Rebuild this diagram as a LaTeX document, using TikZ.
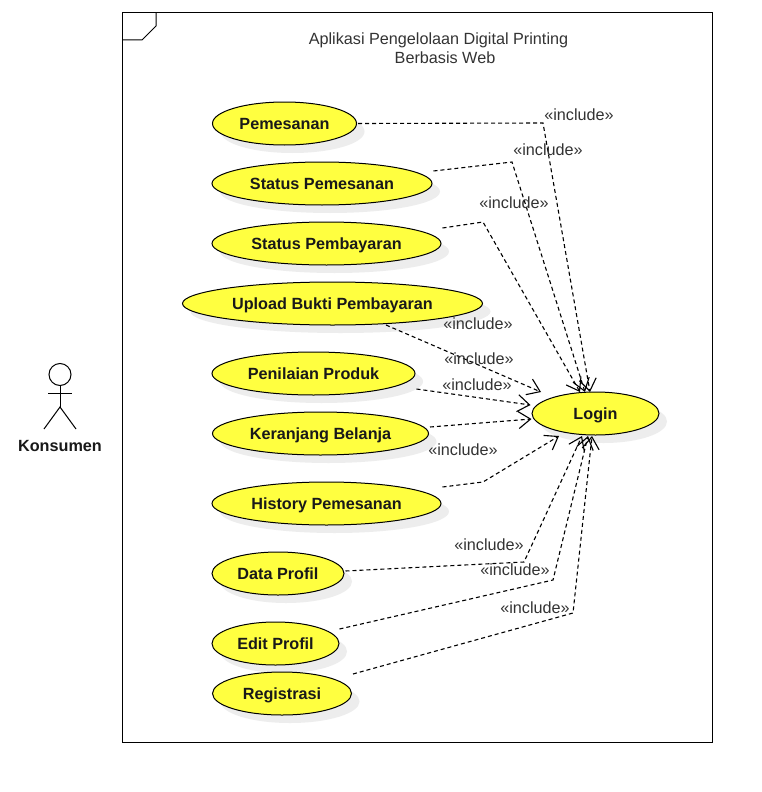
\documentclass[tikz,border=0pt]{standalone}
\usepackage{fontspec}
\setmainfont{Liberation Sans}
\usetikzlibrary{shapes.geometric,arrows.meta,shadows}
\definecolor{ucfill}{HTML}{FFFF40}
\definecolor{txt}{HTML}{333333}
\tikzset{
  uc/.style={ellipse,draw=black,line width=1pt,fill=ucfill,inner sep=0pt,
    minimum height=43pt,text height=14pt,text depth=3pt,
    font=\fontsize{16.2}{19}\selectfont\bfseries,text=black!90,
    drop shadow={shadow xshift=8pt,shadow yshift=-8pt,opacity=1,fill=black!7}},
  inc/.style={draw=black,line width=1.1pt,dash pattern=on 4pt off 3pt,
    -{Straight Barb[length=12pt,width=17pt,line width=1.1pt]}},
  lbl/.style={font=\fontsize{16.2}{19}\selectfont,text=txt,inner sep=0pt},
  ln/.style={draw=black,line width=1pt}
}
\begin{document}
\begin{tikzpicture}[x=1pt,y=-1pt]
\useasboundingbox (0,0) rectangle (762,792);
\fill[white] (0,0) rectangle (762,792);
% frame
\draw[ln] (122.5,12.5) rectangle (712.5,742.5);
\draw[ln] (122.5,40) -- (142,40) -- (156,26) -- (156,12.5);
\node[lbl,align=center] (title) at (438.5,48.5) {Aplikasi Pengelolaan Digital Printing\\\hspace*{13pt}Berbasis Web};
% actor
\node[circle,ln,minimum size=22pt,inner sep=0pt] (head) at (60,374.5) {};
\coordinate (hip) at (60,407);
\draw[ln] (head.south) -- (hip);
\draw[ln] (48,393) -- (72,393);
\draw[ln] (44,429) -- (hip) -- (76,429);
\node[font=\fontsize{16.2}{19}\selectfont\bfseries,text=black!90,inner sep=0pt] (konsumen) at (60,446) {Konsumen};
% use cases
\node[uc,minimum width=144pt] (a) at (284.5,123.5) {Pemesanan};
\node[uc,minimum width=220pt] (b) at (322,183.5) {Status Pemesanan};
\node[uc,minimum width=229pt] (c) at (326.5,243.5) {Status Pembayaran};
\node[uc,minimum width=300pt] (d) at (332.5,303.5) {Upload Bukti Pembayaran};
\node[uc,minimum width=203pt] (e) at (313.5,373.5) {Penilaian Produk};
\node[uc,minimum width=216pt] (f) at (320.5,433.5) {Keranjang Belanja};
\node[uc,minimum width=229pt] (g) at (326.5,503.5) {History Pemesanan};
\node[uc,minimum width=132pt] (h) at (278,573.5) {Data Profil};
\node[uc,minimum width=127pt] (i) at (275.5,643.5) {Edit Profil};
\node[uc,minimum width=139pt] (j) at (282,693.5) {Registrasi};
\node[uc,minimum width=127pt] (login) at (595.5,413.5) {Login};
% connectors
\draw[inc] ([shift={(1,0)}]a.east) -- (543,123) -- ([shift={(-5.5,-21.5)}]login.center);
\draw[inc] ([shift={(1,-12.5)}]b.east) -- (512,162) -- ([shift={(-10.5,-21.5)}]login.center);
\draw[inc] ([shift={(1,-15.5)}]c.east) -- (483,222) -- ([shift={(-15.5,-21.5)}]login.center);
\draw[inc] ([shift={(53.5,21.5)}]d.center) -- ([shift={(-54.5,-21.5)}]login.center);
\draw[inc] ([shift={(1,15.5)}]e.east) -- ([shift={(-1,-8.5)}]login.west);
\draw[inc] ([shift={(1,-6.5)}]f.east) -- ([shift={(0,5.5)}]login.west);
\draw[inc] ([shift={(1,-16.5)}]g.east) -- (483,482) -- ([shift={(-36.5,22.5)}]login.center);
\draw[inc] ([shift={(1,-2.5)}]h.east) -- (524,562) -- ([shift={(-13.5,22.5)}]login.center);
\draw[inc] ([shift={(0,-14.5)}]i.east) -- (553,580) -- ([shift={(-7.5,22.5)}]login.center);
\draw[inc] ([shift={(1,-19.5)}]j.east) -- (573,613) -- ([shift={(-3.5,22.5)}]login.center);
% labels
\node[lbl] (l1) at (579,115) {«include»};
\node[lbl] (l2) at (548,150) {«include»};
\node[lbl] (l3) at (514,203) {«include»};
\node[lbl] (l4) at (478,324) {«include»};
\node[lbl] (l5) at (479,359) {«include»};
\node[lbl] (l6) at (477,385) {«include»};
\node[lbl] (l7) at (463,450) {«include»};
\node[lbl] (l8) at (489,545) {«include»};
\node[lbl] (l9) at (515,570) {«include»};
\node[lbl] (l10) at (535,608) {«include»};
\end{tikzpicture}
\end{document}
